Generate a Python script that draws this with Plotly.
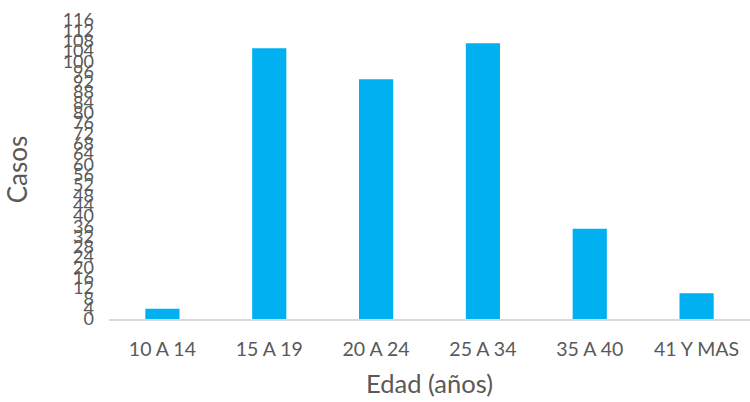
import plotly.graph_objects as go

categories = ["10 A 14", "15 A 19", "20 A 24", "25 A 34", "35 A 40", "41 Y MAS"]
casos = [4, 105, 93, 107, 35, 10]
y_ticks = list(range(0, 117, 4))

FONT = "Lato, 'Open Sans', sans-serif"
GRAY = "#595959"

fig = go.Figure(go.Bar(
    x=categories, y=casos,
    marker=dict(color="#00B0F0", line=dict(width=0)),
))

fig.update_layout(
    width=750, height=402,
    margin=dict(l=109, r=0, t=20, b=83),
    paper_bgcolor="white", plot_bgcolor="white",
    bargap=0.68,
    showlegend=False,
    font=dict(family=FONT, color=GRAY),
    xaxis=dict(
        showgrid=False, showline=True, linecolor="#D9D9D9", linewidth=2,
        tickfont=dict(size=19.5, color=GRAY), ticklabelstandoff=12,
        title=dict(text="Edad (años)", font=dict(size=25.5, color=GRAY), standoff=16),
    ),
    yaxis=dict(
        range=[0, 116], tickvals=y_ticks, showgrid=False, showline=False,
        zeroline=False, tickfont=dict(size=18, color=GRAY), ticklabelstandoff=14,
        title=dict(text="Casos", font=dict(size=26, color=GRAY), standoff=27),
    ),
)

fig.write_html("out.html")
